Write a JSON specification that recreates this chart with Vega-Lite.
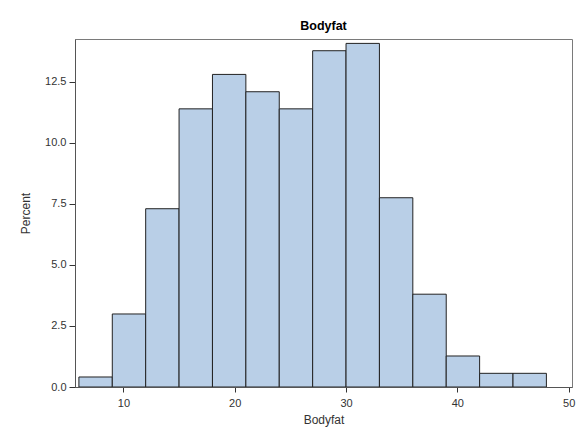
{
  "$schema": "https://vega.github.io/schema/vega-lite/v6.json",
  "width": 497,
  "height": 348,
  "autosize": {"type": "none"},
  "padding": {"left": 75, "top": 39, "right": 7, "bottom": 50},
  "background": "white",
  "title": {
    "text": "Bodyfat",
    "font": "Liberation Sans",
    "fontSize": 12.5,
    "fontWeight": "bold",
    "color": "#000000",
    "anchor": "middle",
    "offset": 7
  },
  "data": {
    "values": [
      {"bin_start": 6, "bin_end": 9, "percent": 0.41},
      {"bin_start": 9, "bin_end": 12, "percent": 2.99},
      {"bin_start": 12, "bin_end": 15, "percent": 7.30},
      {"bin_start": 15, "bin_end": 18, "percent": 11.39},
      {"bin_start": 18, "bin_end": 21, "percent": 12.80},
      {"bin_start": 21, "bin_end": 24, "percent": 12.09},
      {"bin_start": 24, "bin_end": 27, "percent": 11.39},
      {"bin_start": 27, "bin_end": 30, "percent": 13.77},
      {"bin_start": 30, "bin_end": 33, "percent": 14.07},
      {"bin_start": 33, "bin_end": 36, "percent": 7.75},
      {"bin_start": 36, "bin_end": 39, "percent": 3.80},
      {"bin_start": 39, "bin_end": 42, "percent": 1.27},
      {"bin_start": 42, "bin_end": 45, "percent": 0.56},
      {"bin_start": 45, "bin_end": 48, "percent": 0.56}
    ]
  },
  "mark": {"type": "rect", "fill": "#B9CFE7", "stroke": "#222222", "strokeWidth": 1, "clip": true},
  "encoding": {
    "x": {
      "field": "bin_start",
      "type": "quantitative",
      "scale": {"domain": [5.65, 50.3], "nice": false, "zero": false},
      "axis": {
        "title": "Bodyfat",
        "values": [10, 20, 30, 40, 50],
        "grid": false,
        "tickSize": 5,
        "labelPadding": 5,
        "titlePadding": 6
      }
    },
    "x2": {"field": "bin_end"},
    "y": {
      "field": "percent",
      "type": "quantitative",
      "scale": {"domain": [0, 14.25], "nice": false},
      "axis": {
        "title": "Percent",
        "values": [0, 2.5, 5, 7.5, 10, 12.5],
        "format": ".1f",
        "grid": false,
        "tickSize": 6,
        "labelPadding": 3,
        "titlePadding": 12
      }
    },
    "y2": {"datum": 0}
  },
  "config": {
    "view": {"stroke": "#7a7a7a", "strokeWidth": 1},
    "axis": {
      "labelFont": "Liberation Sans",
      "labelFontSize": 11,
      "labelColor": "#333333",
      "titleFont": "Liberation Sans",
      "titleFontSize": 12,
      "titleFontWeight": "normal",
      "titleColor": "#333333",
      "domainColor": "#555555",
      "tickColor": "#333333"
    }
  }
}
